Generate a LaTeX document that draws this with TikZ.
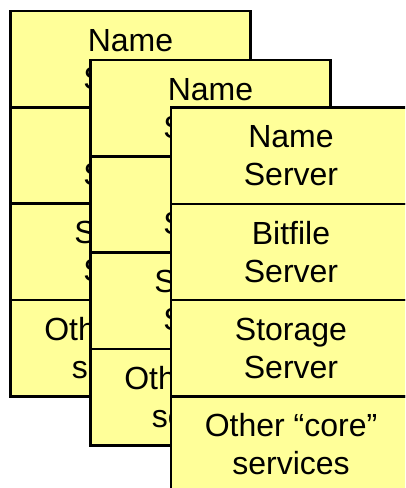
\documentclass[tikz,border=0pt]{standalone}
\usepackage{fontspec}
\setmainfont{Liberation Sans}
\definecolor{cellyellow}{HTML}{FFFF99}
\begin{document}
\begin{tikzpicture}[x=1pt,y=-1pt,
  cell/.style={draw=black, fill=cellyellow, line width=2.6pt,
    minimum width=240pt, minimum height=96.3pt, inner sep=0pt, outer sep=0pt,
    align=center, anchor=north, text=black,
    font=\fontsize{32}{38}\selectfont}]
\useasboundingbox (0,0) rectangle (405,488);
\clip (0,0) rectangle (405,488);
\foreach \s/\x/\y in {1/130.5/11, 2/210.5/60, 3/291/107.5}{
  \node[cell] (s\s a) at (\x,\y) {Name\\Server};
  \node[cell] (s\s b) at (s\s a.south) {Bitfile\\Server};
  \node[cell] (s\s c) at (s\s b.south) {Storage\\Server};
  \node[cell] (s\s d) at (s\s c.south) {Other “core”\\services};
}
\end{tikzpicture}
\end{document}
